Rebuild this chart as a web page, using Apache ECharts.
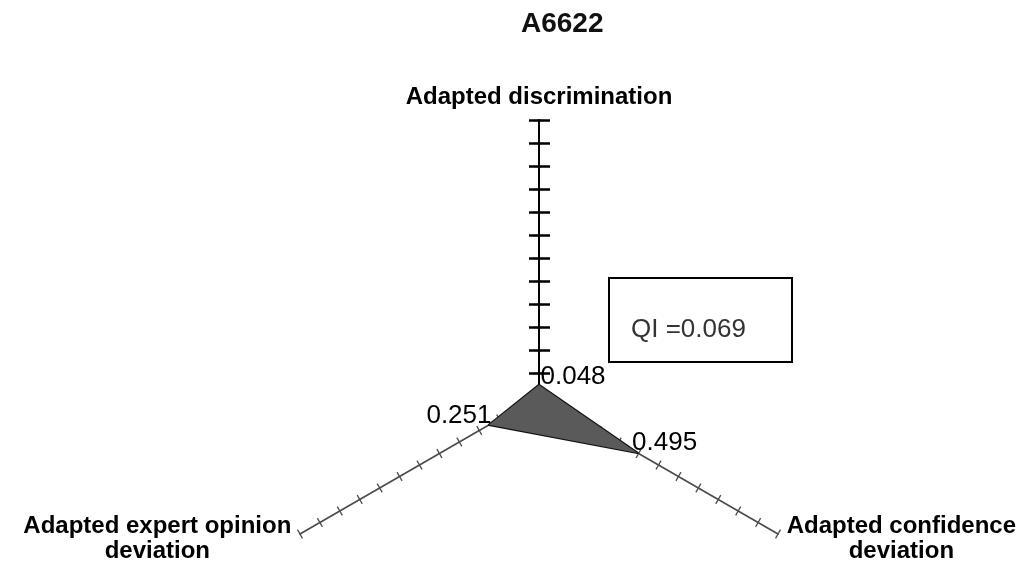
<!DOCTYPE html>
<html><head><meta charset="utf-8">
<script src="https://cdn.jsdelivr.net/npm/echarts@6/dist/echarts.min.js"></script>
<style>html,body{margin:0;padding:0;background:#fff}#c{width:1032px;height:569px}</style>
</head><body><div id="c"></div>
<script>
const chartTitle = 'A6622';
const indicatorNames = ['Adapted discrimination', 'Adapted expert opinion|deviation', 'Adapted confidence|deviation'];
const values = [0.048, 0.251, 0.495];
const axisMin = 0;
const axisMax = 1.2;
const tickCount = 12;
const qiText = 'QI =0.069';

const labelPos = ['right', 'left', 'right'];
const labelOffset = [[-4, -8], [8, -9], [-11, -10]];
const FONT = 'Liberation Sans, Arial, sans-serif';
const CENTER = [539, 396];
const RADIUS = 276;

function makeRadar(indicators, extra) {
  return Object.assign({
    center: CENTER, radius: RADIUS, startAngle: 90, shape: 'polygon',
    splitNumber: tickCount,
    indicator: indicators,
    splitLine: { show: false }, splitArea: { show: false },
    axisLabel: { show: false },
    axisName: { show: false }
  }, extra);
}
const fullInd = indicatorNames.map(n => ({ name: n, min: axisMin, max: axisMax }));
const blankInd = indicatorNames.map(() => ({ name: '', min: axisMin, max: axisMax }));
const vertInd = [{ name: '', min: axisMin, max: axisMax }];

const chart = echarts.init(document.getElementById('c'));
const labelSeries = values.map((v, k) => ({
  type: 'radar', radarIndex: 0, z: 4, silent: true,
  symbol: 'circle', symbolSize: 1,
  itemStyle: { color: 'rgba(0,0,0,0)', borderWidth: 0 },
  lineStyle: { width: 0, opacity: 0 },
  label: {
    show: true, position: labelPos[k], offset: labelOffset[k],
    fontSize: 26, fontFamily: FONT, color: '#000',
    formatter: p => (p.value === values[k] ? String(values[k]) : '')
  },
  data: [{ value: values }]
}));

chart.setOption({
  animation: false,
  title: [
    { text: chartTitle, left: 516, top: 5,
      textStyle: { fontSize: 28, fontWeight: 'bold', fontFamily: FONT, color: '#111' } },
    { text: qiText, left: 609, top: 278, borderColor: '#000', borderWidth: 2,
      padding: [39, 46, 19, 22],
      textStyle: { fontSize: 26, fontWeight: 'normal', fontFamily: FONT, color: '#333', lineHeight: 26 } }
  ],
  radar: [
    makeRadar(fullInd, {
      axisLine: { lineStyle: { color: '#4a4a4a', width: 1.6 } },
      axisTick: { show: true, length: 5, lineStyle: { color: '#4a4a4a', width: 1.3 } },
      axisName: {
        show: true, color: '#000', fontSize: 24, fontWeight: 'bold', fontFamily: FONT,
        formatter: function (name) {
          const parts = name.split('|');
          if (parts.length === 1) return '{a|' + parts[0] + '}';
          return '{a|' + parts[0] + '}\n{c|' + parts[1] + '}';
        },
        rich: {
          a: { fontSize: 24, fontWeight: 'bold', fontFamily: FONT, color: '#000', lineHeight: 25 },
          c: { fontSize: 24, fontWeight: 'bold', fontFamily: FONT, color: '#000', lineHeight: 25, align: 'center' }
        }
      },
      nameGap: 10
    }),
    makeRadar(blankInd, {
      axisLine: { show: false },
      axisTick: { show: true, length: -5, lineStyle: { color: '#4a4a4a', width: 1.3 } }
    }),
    makeRadar(vertInd, {
      axisLine: { lineStyle: { color: '#000', width: 2 } },
      axisTick: { show: true, length: 10, lineStyle: { color: '#000', width: 2.5 } }
    }),
    makeRadar(vertInd, {
      axisLine: { show: false },
      axisTick: { show: true, length: -11, lineStyle: { color: '#000', width: 2.5 } }
    })
  ],
  series: [{
    type: 'radar', radarIndex: 0, z: 3, symbol: 'none', silent: true,
    lineStyle: { color: '#111', width: 2.2 },
    itemStyle: { color: '#111' },
    areaStyle: { color: '#5a5a5a', opacity: 1 },
    data: [{ value: values }]
  }].concat(labelSeries)
});
</script></body></html>
